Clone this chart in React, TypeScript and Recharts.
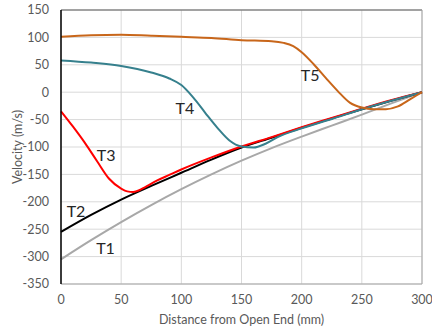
import { LineChart, Line, XAxis, YAxis, CartesianGrid, ReferenceLine, ReferenceDot } from "recharts";

const xTicks = [0, 50, 100, 150, 200, 250, 300];
const yTicks = [-350, -300, -250, -200, -150, -100, -50, 0, 50, 100, 150];

const t1X = [0, 25, 50, 75, 100, 125, 150, 175, 200, 225, 250, 275, 300];
const t1Y = [-305, -270, -237, -206, -177, -150, -125, -102, -81, -61, -41, -20, 0];

const t2X = [0, 25, 50, 75, 100, 125, 150, 175, 200, 225, 250, 275, 300];
const t2Y = [-255, -224, -196, -171, -147, -123, -101, -83, -65, -48, -31, -15, 0];

const t3X = [0, 10, 20, 30, 40, 50, 55, 60, 65, 70, 80, 90, 100, 125, 150, 175, 200, 225, 250, 275, 300];
const t3Y = [-35, -63, -93, -126, -158, -176, -181, -182, -179, -173, -161, -151, -141, -119, -99, -82, -64, -47, -30, -14, 0];

const t4X = [0, 25, 50, 75, 90, 100, 110, 120, 130, 140, 150, 160, 170, 180, 200, 225, 250, 275, 300];
const t4Y = [58, 54, 48, 36, 25, 13, -10, -38, -65, -88, -99, -101, -94, -82, -66, -49, -31, -15, 0];

const t5X = [0, 25, 50, 75, 100, 125, 150, 175, 185, 193, 200, 210, 220, 230, 240, 250, 260, 270, 280, 290, 300];
const t5Y = [101, 104, 105, 103, 101, 99, 95, 93, 90, 84, 73, 51, 26, 2, -19, -28, -31, -31, -26, -13, 0];

const labels = [
  { name: "T1", x: 37, y: -284 },
  { name: "T2", x: 12.5, y: -217 },
  { name: "T3", x: 37.5, y: -116 },
  { name: "T4", x: 103, y: -29 },
  { name: "T5", x: 207, y: 31 },
];

const pts = (xs: number[], ys: number[]) => xs.map((x, i) => ({ x, v: ys[i] }));

const series = [
  { name: "T1", data: pts(t1X, t1Y), color: "#a8a8a8" },
  { name: "T2", data: pts(t2X, t2Y), color: "#000000" },
  { name: "T3", data: pts(t3X, t3Y), color: "#ff0000" },
  { name: "T4", data: pts(t4X, t4Y), color: "#36808d" },
  { name: "T5", data: pts(t5X, t5Y), color: "#c8661a" },
];

const font = "Lato, 'Open Sans', sans-serif";
const tickStyle = { fill: "#595959", fontSize: 12.5, fontFamily: font };

export default function App() {
  return (
    <div style={{ position: "absolute", left: 0, top: 0, width: 432, height: 334, background: "#fff" }}>
      <LineChart width={432} height={334} margin={{ top: 10, right: 10, left: 0, bottom: 6 }}>
        <CartesianGrid stroke="#d9d9d9" />
        <XAxis
          type="number"
          dataKey="x"
          domain={[0, 300]}
          ticks={xTicks}
          tickSize={0}
          tickMargin={11}
          tick={tickStyle}
          stroke="#a6a6a6"
          height={44}
          label={{
            content: ({ viewBox }: any) => (
              <text
                x={viewBox.x + viewBox.width / 2}
                y={viewBox.y + 40}
                textAnchor="middle"
                fill="#595959"
                fontSize={12.5}
                fontFamily={font}
              >
                Distance from Open End (mm)
              </text>
            ),
          }}
        />
        <YAxis
          type="number"
          domain={[-350, 150]}
          ticks={yTicks}
          tickSize={0}
          tickMargin={12}
          tick={tickStyle}
          stroke="#000"
          strokeWidth={1.5}
          width={61}
          label={{
            content: ({ viewBox }: any) => {
              const cx = viewBox.x + 17;
              const cy = viewBox.y + viewBox.height / 2;
              return (
                <text
                  x={cx}
                  y={cy}
                  transform={`rotate(-90 ${cx} ${cy})`}
                  textAnchor="middle"
                  dominantBaseline="central"
                  fill="#595959"
                  fontSize={12.5}
                  fontFamily={font}
                >
                  Velocity (m/s)
                </text>
              );
            },
          }}
        />
        <ReferenceLine y={150} stroke="#595959" />
        <ReferenceLine x={300} stroke="#a6a6a6" />
        {series.map((s) => (
          <Line
            key={s.name}
            data={s.data}
            dataKey="v"
            type="monotone"
            stroke={s.color}
            strokeWidth={2}
            dot={false}
            isAnimationActive={false}
          />
        ))}
        {labels.map((l) => (
          <ReferenceDot
            key={l.name}
            x={l.x}
            y={l.y}
            r={0}
            fill="none"
            stroke="none"
            label={{ value: l.name, position: "center", fill: "#262626", fontSize: 16, fontFamily: font }}
          />
        ))}
      </LineChart>
    </div>
  );
}
